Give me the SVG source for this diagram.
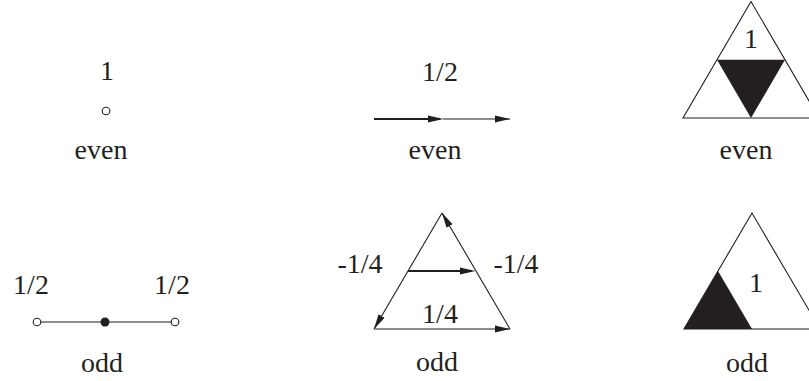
<svg xmlns="http://www.w3.org/2000/svg" width="809" height="381" viewBox="0 0 809 381">
<style>
text{font-family:"Liberation Serif","Times New Roman",serif;font-size:28px;fill:#231f20;text-anchor:middle}
.thin{stroke:#231f20;stroke-width:1.1;fill:none}
.thick{stroke:#231f20;stroke-width:2;fill:none}
.open{fill:#fff;stroke:#231f20;stroke-width:1.1}
.dot{fill:#231f20}
.blk{fill:#231f20;stroke:none}
.tri{fill:none;stroke:#231f20;stroke-width:1.1;stroke-linejoin:miter}
</style>
<defs>
<marker id="ah" markerUnits="userSpaceOnUse" markerWidth="16" markerHeight="8" refX="15" refY="4" orient="auto" viewBox="0 0 16 8">
<path d="M0,0.5 L15.5,4 L0,7.5 Z" fill="#231f20"/>
</marker>
<marker id="ahk" markerUnits="userSpaceOnUse" markerWidth="16" markerHeight="8" refX="12" refY="4" orient="auto" viewBox="0 0 16 8">
<path d="M0,0.5 L15.5,4 L0,7.5 Z" fill="#231f20"/>
</marker>
</defs>

<g id="vertex-even">
<text x="107" y="80">1</text>
<circle class="open" cx="106" cy="111" r="3.8"/>
<text x="101" y="159">even</text>
</g>

<g id="edge-even">
<text x="440" y="81">1/2</text>
<text x="435" y="159">even</text>
</g>

<g id="face-even">
<polygon class="tri" points="751,1.5 683,118 819,118"/>
<polygon class="blk" points="717,59.75 785,59.75 751,118"/>
<text x="751" y="48">1</text>
<text x="746" y="159">even</text>
</g>

<g id="vertex-odd">
<text x="31" y="294">1/2</text>
<text x="172" y="294">1/2</text>
<line class="thin" x1="37" y1="322" x2="175" y2="322"/>
<circle class="open" cx="37" cy="322" r="3.8"/>
<circle class="dot" cx="105" cy="322" r="4.5"/>
<circle class="open" cx="175" cy="322" r="3.8"/>
<text x="102" y="372">odd</text>
</g>

<g id="edge-odd">
<text x="360" y="273">-1/4</text>
<text x="516" y="273">-1/4</text>
<text x="440" y="323">1/4</text>
<text x="437" y="371">odd</text>
</g>

<g id="face-odd">
<polygon class="tri" points="752,213 684,329 820,329"/>
<polygon class="blk" points="684,329 752,329 718,271"/>
<text x="756" y="292">1</text>
<text x="747" y="372">odd</text>
</g>

<g id="connectors">
<path class="thick" d="M374,119 L440,119" marker-end="url(#ahk)"/>
<path class="thin" d="M443,119 L510,119" marker-end="url(#ah)"/>
<path class="thin" d="M510,329 L442,213" marker-end="url(#ah)"/>
<path class="thin" d="M442,213 L374,329" marker-end="url(#ah)"/>
<path class="thin" d="M374,329 L510,329" marker-end="url(#ah)"/>
<path class="thick" d="M408,271 L472,271" marker-end="url(#ahk)"/>
</g>
</svg>
